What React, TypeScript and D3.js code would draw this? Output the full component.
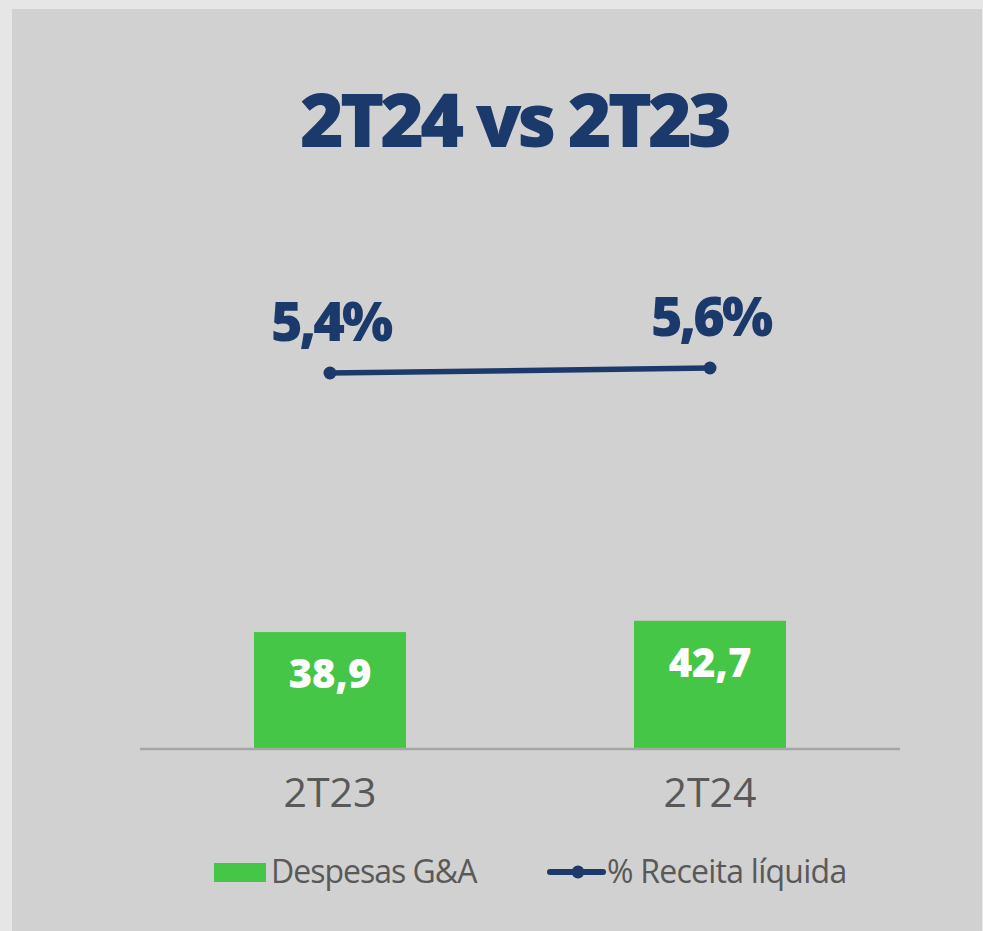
import React from "react";
import * as d3 from "d3";

const categories = ["2T23", "2T24"];
const despesas = [38.9, 42.7];
const despesasLabels = ["38,9", "42,7"];
const receitaPct = [5.4, 5.6];
const receitaLabels = ["5,4%", "5,6%"];
const title = "2T24 vs 2T23";
const legendItems = ["Despesas G&A", "% Receita líquida"];

const W = 983;
const H = 931;
const NAVY = "#1b3a6b";
const GREEN = "#45c646";
const GRAY_TEXT = "#595959";
const FONT = "'Open Sans', sans-serif";

export default function App() {
  const x = d3.scaleBand<string>().domain(categories).range([140, 900]).paddingInner(0.6).paddingOuter(0.3);
  const y = d3.scaleLinear().domain([0, 100]).range([748, 450]);
  const y2 = d3.scaleLinear().domain([0, 10]).range([508, 258]);
  const cx = (c: string) => (x(c) as number) + x.bandwidth() / 2;
  const linePts: [number, number][] = categories.map((c, i) => [cx(c), y2(receitaPct[i])]);
  const line = d3.line();

  return (
    <svg
      width={W}
      height={H}
      style={{ position: "absolute", left: 0, top: 0, display: "block" }}
      fontFamily={FONT}
    >
      <rect x={0} y={0} width={W} height={H} fill="#e6e6e6" />
      <rect x={12} y={9} width={W - 13} height={H - 9} fill="#d1d1d1" />

      <text x={514} y={147} textAnchor="middle" fill={NAVY} fontSize={75} fontWeight={800} letterSpacing={-4}>
        {title}
      </text>

      {categories.map((c, i) => (
        <g key={c}>
          <rect x={x(c)} y={y(despesas[i])} width={x.bandwidth()} height={y(0) - y(despesas[i])} fill={GREEN} />
          <text x={cx(c)} y={y(despesas[i]) + 56} textAnchor="middle" fill="#fff" fontSize={40} fontWeight={800}>
            {despesasLabels[i]}
          </text>
          <text x={cx(c)} y={807} textAnchor="middle" fill={GRAY_TEXT} fontSize={41}>
            {c}
          </text>
        </g>
      ))}

      <line x1={140} x2={900} y1={749} y2={749} stroke="#a6a6a6" strokeWidth={2.5} />

      <path d={line(linePts) || ""} fill="none" stroke={NAVY} strokeWidth={5.5} />
      {linePts.map((p, i) => (
        <g key={i}>
          <circle cx={p[0]} cy={p[1]} r={6.5} fill={NAVY} />
          <text x={p[0] + 0.5} y={p[1] - 32} textAnchor="middle" fill={NAVY} fontSize={54} fontWeight={800} letterSpacing={-3}>
            {receitaLabels[i]}
          </text>
        </g>
      ))}

      <g>
        <rect x={214} y={863} width={52} height={19} fill={GREEN} />
        <text x={271} y={883} fill={GRAY_TEXT} fontSize={32} letterSpacing={-1}>
          {legendItems[0]}
        </text>
        <line x1={550} x2={603} y1={872} y2={872} stroke={NAVY} strokeWidth={6} strokeLinecap="round" />
        <circle cx={578} cy={872} r={6.5} fill={NAVY} />
        <text x={607} y={883} fill={GRAY_TEXT} fontSize={32} letterSpacing={-0.75}>
          {legendItems[1]}
        </text>
      </g>
    </svg>
  );
}
